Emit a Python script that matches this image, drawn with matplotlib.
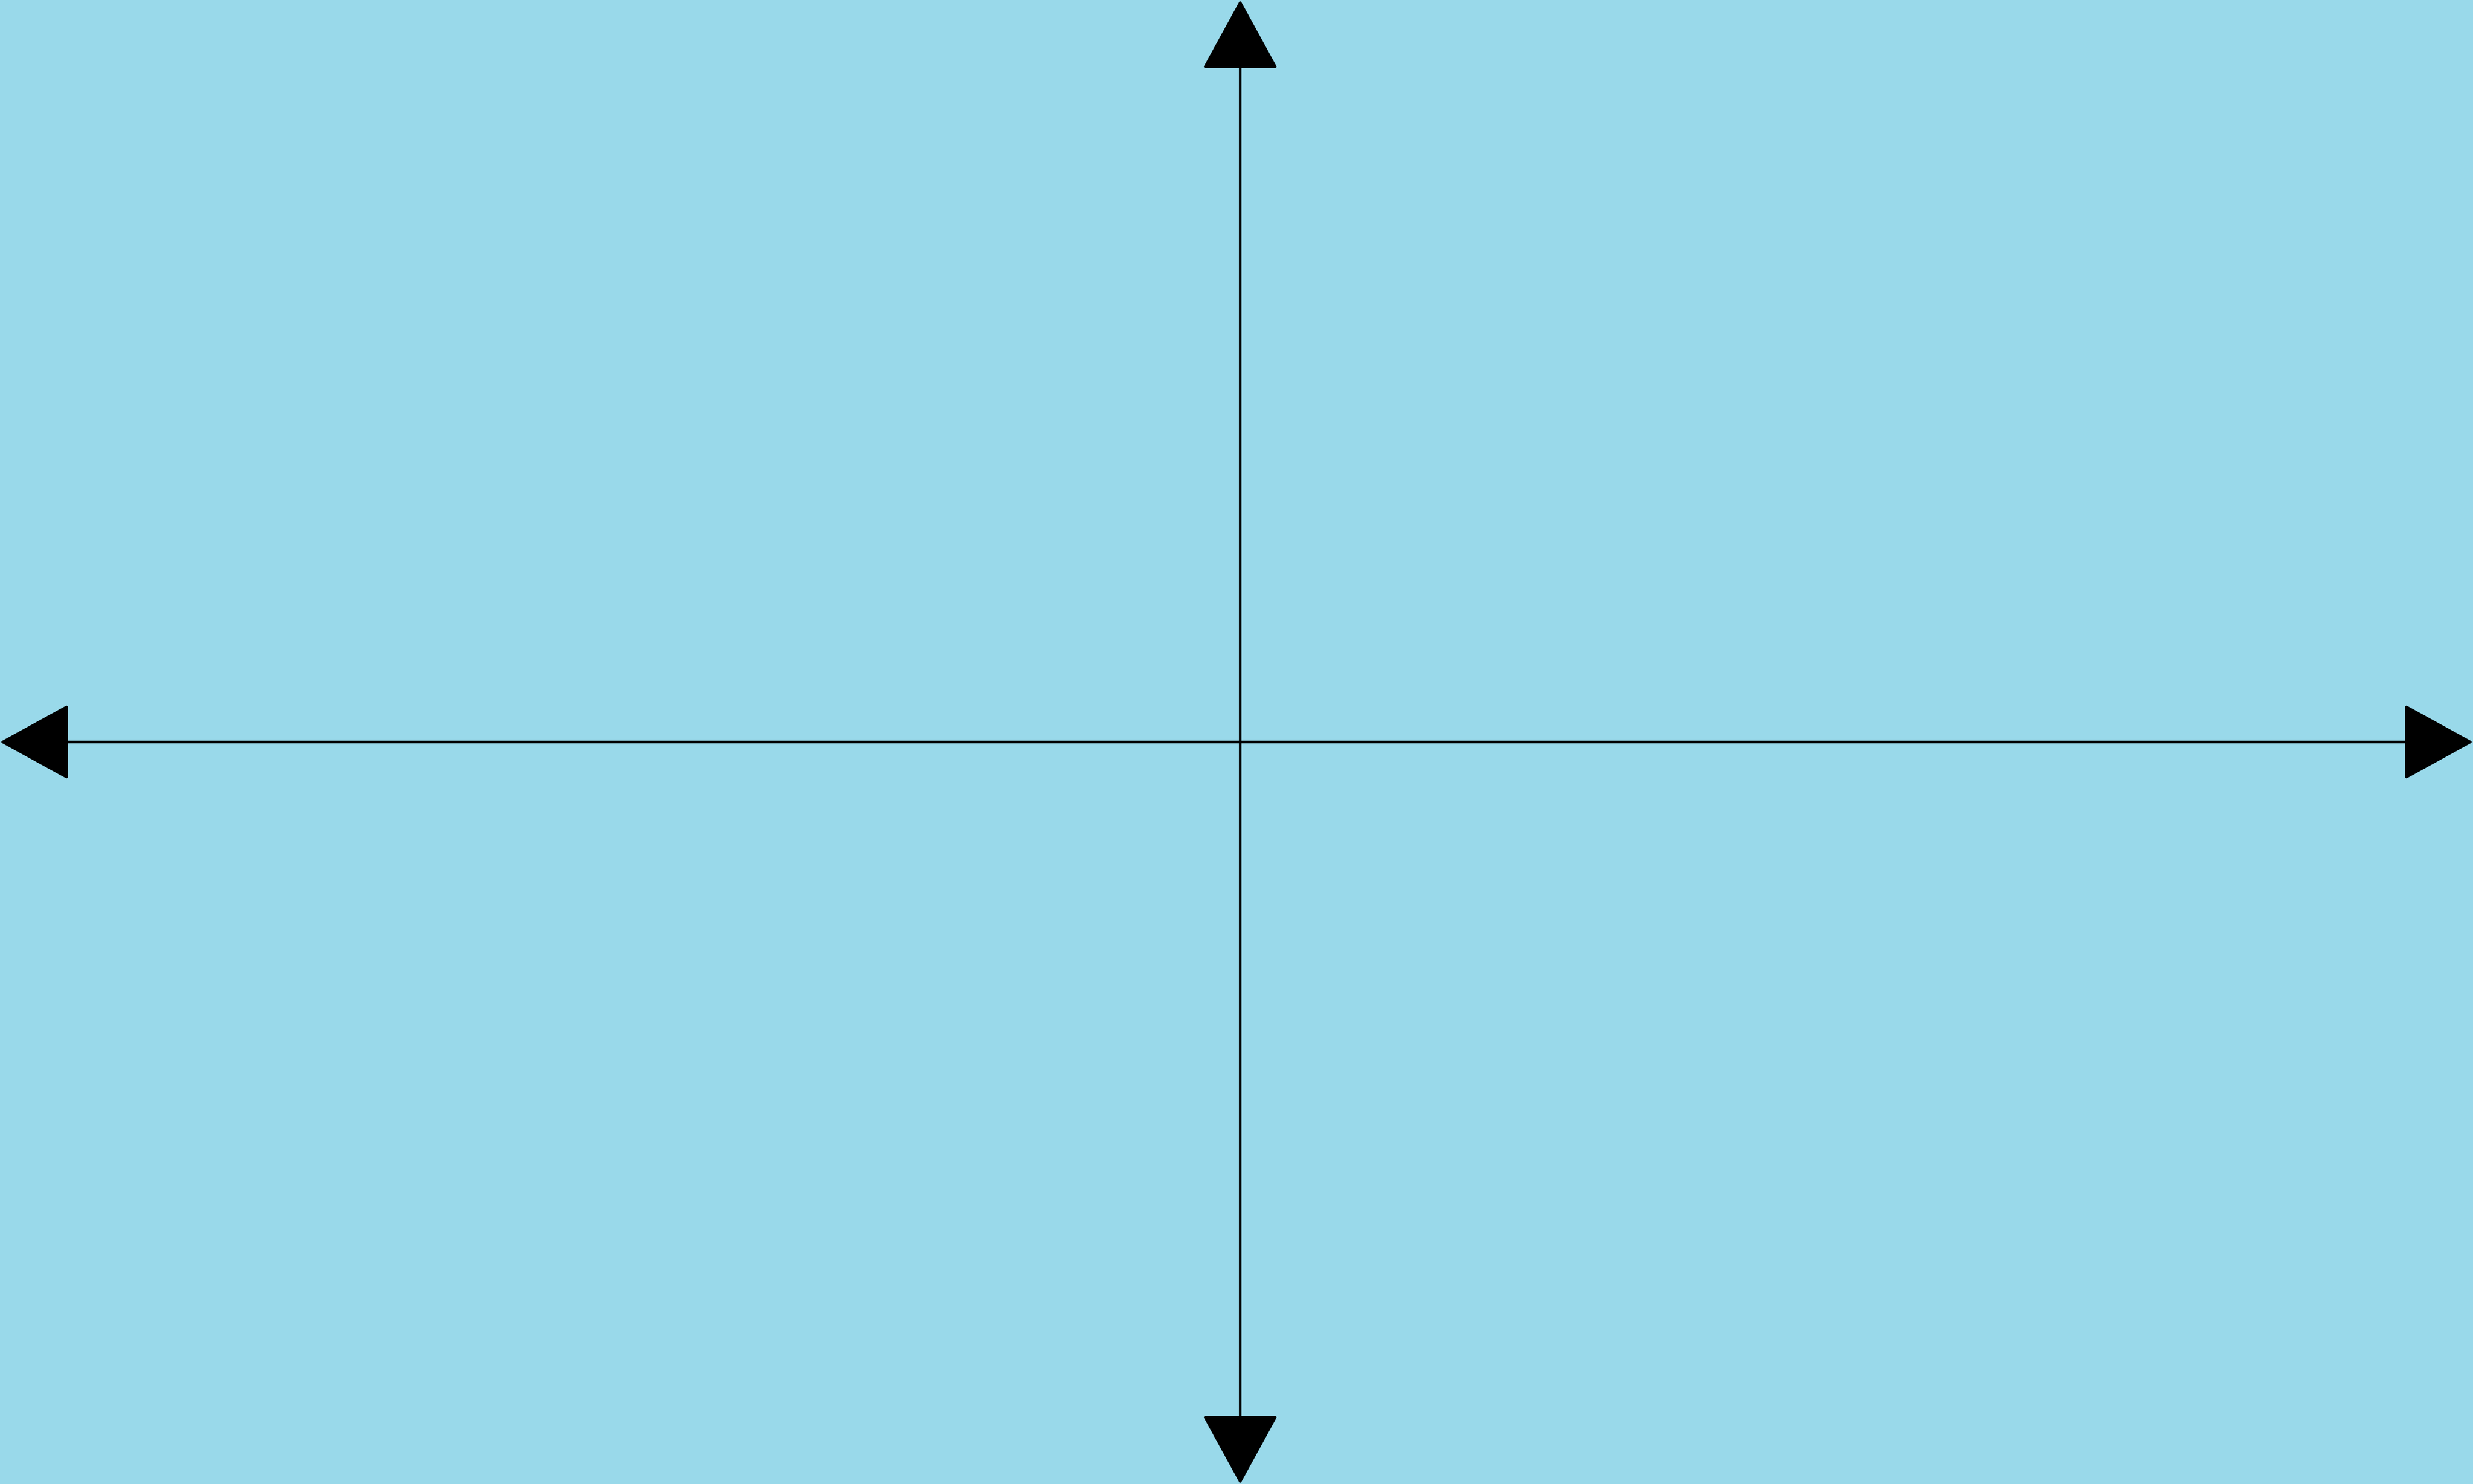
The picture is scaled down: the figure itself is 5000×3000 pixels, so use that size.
"""
Blank coordinate plane: two axes with arrowheads on a light blue field.
"""
import matplotlib

matplotlib.use("Agg")
import matplotlib.pyplot as plt

# axis extents (data units); the origin sits a hair right of centre
x_range = [-10.03, 9.97]
y_range = [-6, 6]
origin = (0, 0)

BG = "#99d9ea"

fig = plt.figure(figsize=(50 / 3, 10), dpi=300, facecolor=BG)
ax = fig.add_axes([0, 0, 1, 1], facecolor=BG)
ax.set_xlim(x_range)
ax.set_ylim(y_range)
ax.set_axis_off()

# arrowhead: ~137 px long, ~142 px wide at 300 dpi
head = dict(arrowstyle="-|>,head_length=31,head_width=17", mutation_scale=1,
            color="black", lw=1.25, shrinkA=0, shrinkB=0)

ends = [
    (x_range[0], origin[1]),
    (x_range[1], origin[1]),
    (origin[0], y_range[0]),
    (origin[0], y_range[1]),
]
for end in ends:
    ax.annotate("", xy=end, xytext=origin, arrowprops=head, annotation_clip=False)

fig.savefig("out.png", dpi=300, facecolor=BG)
plt.close(fig)
